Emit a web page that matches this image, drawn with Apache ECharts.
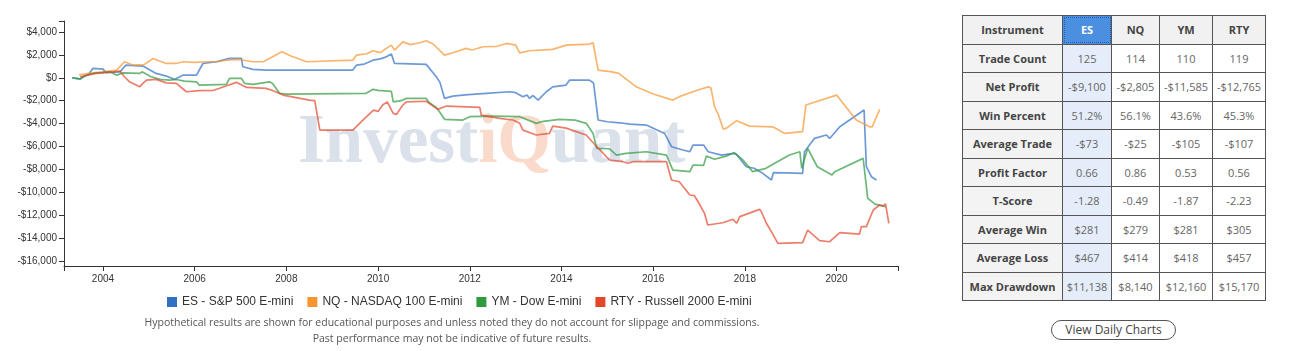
<!DOCTYPE html>
<html>
<head>
<meta charset="utf-8">
<script src="https://cdn.jsdelivr.net/npm/echarts@6.0.0/dist/echarts.min.js"></script>
<style>
  body { margin: 0; background: #fff; font-family: 'Open Sans', sans-serif; }
  #chart { position: absolute; left: 0; top: 0; width: 940px; height: 351px; }
  #stats { position: absolute; left: 962px; top: 15px; border-collapse: collapse; table-layout: fixed; }
  #stats td { border: 1.5px solid #555; height: 27.5px; padding: 0; text-align: center; font-size: 11px; color: #666; white-space: nowrap; background: #fff; }
  #stats tr:first-child td { background: #f1f1f1; color: #444; font-weight: bold; }
  #stats td.lbl { background: #f3f3f3; color: #444; font-weight: bold; }
  #stats td.sel { background: #e4edf9; }
  #stats tr:first-child td.sel { background: #4a8fe0; color: #fff; outline: 1px dotted #2a5fa8; outline-offset: -2px; }
  #daily { position: absolute; left: 1051px; top: 320px; width: 125px; height: 20px; box-sizing: border-box; border: 1.5px solid #555; border-radius: 10px; background: #fff; font-family: 'Open Sans', sans-serif; font-size: 12px; color: #444; text-align: center; line-height: 17px; }
</style>
</head>
<body>
<div id="chart"></div>
<table id="stats"></table>
<div id="daily">View Daily Charts</div>
<script>
// equity curves, [year, net profit $]
const esData = [
  [2003.33, 0], [2003.5, -100], [2003.7, 380], [2003.78, 820], [2004.0, 760], [2004.07, 440], [2004.37, 520],
  [2004.5, 1110], [2004.87, 1020], [2005.16, 380], [2005.38, 150], [2005.56, -140], [2005.74, 230], [2006.04, 230],
  [2006.18, 1250], [2006.47, 1400], [2006.76, 1690], [2007.02, 1690], [2007.05, 960], [2007.27, 730], [2007.56, 670],
  [2009.45, 670], [2009.53, 1110], [2009.7, 1200], [2009.89, 1540], [2010.05, 1650], [2010.18, 1830], [2010.29, 2070],
  [2010.36, 1250], [2011.05, 1170], [2011.27, 90], [2011.35, -400], [2011.45, -1800], [2011.63, -1600], [2011.9, -1500],
  [2012.36, -1360], [2012.87, -1220], [2013.0, -1300], [2013.16, -1660], [2013.25, -1500], [2013.3, -1800], [2013.38, -1550],
  [2013.49, -1950], [2013.67, -1220], [2013.81, -790], [2014.1, -640], [2014.18, -200], [2014.61, -200], [2014.7, -450],
  [2014.8, -3690], [2015.0, -3840], [2015.27, -3930], [2015.5, -4050], [2015.85, -4130], [2016.05, -4500], [2016.25, -4860],
  [2016.4, -6020], [2016.65, -6310], [2016.8, -6460], [2016.87, -5880], [2017.1, -5880], [2017.2, -6460], [2017.49, -6750],
  [2017.75, -6600], [2017.82, -6700], [2018.03, -7770], [2018.2, -7900], [2018.39, -8350], [2018.58, -8930], [2018.62, -8290],
  [2018.9, -8300], [2019.26, -8350], [2019.3, -6460], [2019.52, -5290], [2019.78, -5000], [2019.85, -5300], [2020.07, -4280],
  [2020.6, -2820], [2020.65, -7770], [2020.76, -8640], [2020.87, -8930]
]
const nqData = [
  [2003.48, 250], [2003.7, 380], [2004.0, 520], [2004.3, 670], [2004.47, 1400], [2004.65, 1110], [2004.9, 1150],
  [2005.09, 1690], [2005.38, 1250], [2005.6, 1250], [2005.75, 1400], [2006.0, 1350], [2006.25, 1400], [2006.5, 1400],
  [2006.69, 1540], [2006.98, 1600], [2007.27, 1400], [2007.5, 1400], [2007.9, 2270], [2008.1, 1900], [2008.44, 1400],
  [2009.45, 1540], [2009.53, 1980], [2009.75, 2100], [2009.89, 2360], [2010.05, 2200], [2010.18, 2570], [2010.29, 2850],
  [2010.36, 2420], [2010.54, 3140], [2010.7, 2900], [2010.91, 3060], [2011.05, 3230], [2011.2, 2950], [2011.45, 1980],
  [2011.7, 2270], [2011.92, 2570], [2012.05, 2430], [2012.29, 2710], [2012.6, 2750], [2012.8, 3000], [2013.0, 2850],
  [2013.09, 2180], [2013.3, 2360], [2013.81, 2480], [2014.1, 2850], [2014.61, 2940], [2014.69, 3060], [2014.8, 670],
  [2015.1, 520], [2015.25, 380], [2015.63, -790], [2016.0, -1420], [2016.43, -1950], [2016.6, -1600], [2017.01, -1020],
  [2017.2, -790], [2017.26, -900], [2017.34, -2530], [2017.42, -3200], [2017.53, -4500], [2017.6, -4400], [2017.82, -3750],
  [2018.1, -4220], [2018.61, -4280], [2018.87, -4860], [2019.26, -4710], [2019.33, -2380], [2020.0, -1510], [2020.43, -3690],
  [2020.72, -4280], [2020.78, -4280], [2020.94, -2760]
]
const ymData = [
  [2003.33, 0], [2003.5, -110], [2003.56, 90], [2003.78, 380], [2004.15, 520], [2004.3, 230], [2004.44, 430],
  [2004.8, 380], [2004.85, 520], [2005.05, 90], [2005.24, -140], [2005.45, -200], [2005.6, -150], [2005.78, -290],
  [2006.04, -350], [2006.1, -640], [2006.69, -580], [2006.76, -60], [2007.02, -60], [2007.09, -490], [2007.27, -580],
  [2007.63, -350], [2007.7, -490], [2007.85, -1360], [2008.0, -1420], [2009.74, -1360], [2009.89, -1010], [2010.0, -1100],
  [2010.29, -1190], [2010.33, -2100], [2010.5, -2000], [2010.62, -1800], [2011.05, -1800], [2011.12, -2180], [2011.27, -2590],
  [2011.34, -2970], [2011.45, -3630], [2011.85, -3690], [2012.0, -3400], [2012.5, -3350], [2013.09, -3400], [2013.45, -3980],
  [2013.6, -3800], [2013.96, -3630], [2014.3, -3700], [2014.54, -3980], [2014.69, -4860], [2014.77, -6170], [2015.05, -6200],
  [2015.2, -6750], [2015.41, -6600], [2015.85, -6460], [2016.29, -6750], [2016.43, -8060], [2016.8, -8200], [2016.87, -7620],
  [2017.1, -7650], [2017.16, -6840], [2017.34, -7120], [2017.59, -6840], [2017.77, -6550], [2017.95, -7150], [2018.17, -8200],
  [2018.46, -7910], [2018.97, -6750], [2019.2, -6460], [2019.24, -7910], [2019.37, -6170], [2019.58, -7770], [2019.9, -8490],
  [2019.96, -8200], [2020.58, -7040], [2020.68, -10530], [2020.84, -11030], [2021.07, -11260]
]
const rtyData = [
  [2003.5, 90], [2003.85, 380], [2004.22, 520], [2004.37, 590], [2004.47, 90], [2004.58, -350], [2004.8, -790],
  [2004.88, -450], [2004.95, -200], [2005.16, -140], [2005.38, -440], [2005.6, -490], [2005.82, -1220], [2006.1, -1130],
  [2006.4, -1110], [2006.7, -700], [2006.91, -400], [2007.13, -840], [2007.56, -930], [2007.7, -1110], [2007.93, -1510],
  [2008.5, -1950], [2008.62, -2000], [2008.73, -4570], [2009.45, -4570], [2009.67, -3690], [2009.9, -2820], [2010.0, -2950],
  [2010.1, -2380], [2010.2, -2100], [2010.33, -3110], [2010.4, -3200], [2010.54, -2380], [2010.62, -2100], [2011.05, -2050],
  [2011.3, -2760], [2011.49, -2470], [2012.22, -2590], [2012.25, -3260], [2012.65, -3550], [2012.94, -3690], [2013.09, -3980],
  [2013.16, -4570], [2013.45, -5000], [2013.74, -4860], [2013.81, -4220], [2014.1, -4400], [2014.54, -5000], [2014.77, -6020],
  [2015.05, -7180], [2015.34, -7330], [2015.45, -7470], [2015.56, -7330], [2016.29, -7330], [2016.4, -8930], [2016.57, -9080],
  [2016.8, -10240], [2016.9, -10300], [2017.0, -10960], [2017.12, -11840], [2017.19, -12860], [2017.52, -12660], [2017.74, -12360],
  [2017.82, -12710], [2017.89, -12130], [2018.32, -11490], [2018.36, -11700], [2018.47, -12710], [2018.6, -13590], [2018.72, -14460],
  [2019.26, -14400], [2019.37, -13300], [2019.63, -14230], [2019.85, -14320], [2020.07, -13530], [2020.5, -13650], [2020.54, -13000],
  [2020.65, -13000], [2020.8, -11550], [2020.94, -11110], [2021.0, -11200], [2021.07, -11030], [2021.14, -12710]
]

const seriesNames = ['ES - S&P 500 E-mini', 'NQ - NASDAQ 100 E-mini', 'YM - Dow E-mini', 'RTY - Russell 2000 E-mini']
const seriesColors = ['#2f6fc4', '#f7952f', '#2f9a3e', '#e2472c']
const yearTicks = [2004, 2006, 2008, 2010, 2012, 2014, 2016, 2018, 2020]
const dollarTicks = [-16000, -14000, -12000, -10000, -8000, -6000, -4000, -2000, 0, 2000, 4000]

// stats table
const instruments = ['ES', 'NQ', 'YM', 'RTY']
const statLabels = ['Trade Count', 'Net Profit', 'Win Percent', 'Average Trade', 'Profit Factor', 'T-Score', 'Average Win', 'Average Loss', 'Max Drawdown']
const tradeCount = ['125', '114', '110', '119']
const netProfit = ['-$9,100', '-$2,805', '-$11,585', '-$12,765']
const winPercent = ['51.2%', '56.1%', '43.6%', '45.3%']
const avgTrade = ['-$73', '-$25', '-$105', '-$107']
const profitFactor = ['0.66', '0.86', '0.53', '0.56']
const tScore = ['-1.28', '-0.49', '-1.87', '-2.23']
const avgWin = ['$281', '$279', '$281', '$305']
const avgLoss = ['$467', '$414', '$418', '$457']
const maxDrawdown = ['$11,138', '$8,140', '$12,160', '$15,170']

const footnotes = [
  'Hypothetical results are shown for educational purposes and unless noted they do not account for slippage and commissions.',
  'Past performance may not be indicative of future results.'
]

const xMin = 2003.15, xMax = 2021.34
const yMin = -16440, yMax = 4960

const fmtDollar = (v) => (v < 0 ? '-' : '') + '$' + Math.abs(v).toLocaleString('en-US')

const buildTable = () => {
  const rows = [tradeCount, netProfit, winPercent, avgTrade, profitFactor, tScore, avgWin, avgLoss, maxDrawdown]
  const widths = [100, 49, 48, 53, 53]
  let html = '<colgroup>' + widths.map(w => `<col style="width:${w}px">`).join('') + '</colgroup>'
  html += '<tr><td class="lbl">Instrument</td>' + instruments.map((s, i) => `<td class="${i === 0 ? 'sel' : ''}">${s}</td>`).join('') + '</tr>'
  rows.forEach((r, k) => {
    html += `<tr><td class="lbl">${statLabels[k]}</td>` + r.map((v, i) => `<td class="${i === 0 ? 'sel' : ''}">${v}</td>`).join('') + '</tr>'
  })
  document.getElementById('stats').innerHTML = html
}

const chart = echarts.init(document.getElementById('chart'))

const serif = 'Liberation Serif, Times New Roman, serif'

const option = {
  animation: false,
  textStyle: { fontFamily: 'Liberation Sans, Arial, sans-serif' },
  grid: { left: 64, top: 21, width: 834, height: 245, containLabel: false },
  legend: {
    left: 162,
    top: 291,
    icon: 'rect',
    itemWidth: 10,
    itemHeight: 10,
    itemGap: 14,
    textStyle: { fontSize: 12, color: '#333', fontFamily: 'Liberation Sans, Arial, sans-serif' },
    data: seriesNames
  },
  xAxis: {
    type: 'value',
    min: xMin,
    max: xMax,
    splitLine: { show: false },
    axisLine: { onZero: false, lineStyle: { color: '#333', width: 1 } },
    axisTick: { length: 5, lineStyle: { color: '#333' }, customValues: [xMin].concat(yearTicks, [xMax]) },
    axisLabel: { customValues: yearTicks, fontSize: 10, color: '#333', margin: 8, formatter: (v) => String(v) }
  },
  yAxis: {
    type: 'value',
    min: yMin,
    max: yMax,
    splitLine: { show: false },
    axisLine: { show: true, onZero: false, lineStyle: { color: '#333', width: 1 } },
    axisTick: { show: true, length: 5, lineStyle: { color: '#333' }, customValues: dollarTicks.concat([yMax]) },
    axisLabel: { customValues: dollarTicks, fontSize: 10, color: '#333', margin: 7, formatter: fmtDollar }
  },
  graphic: [
    {
      type: 'text',
      left: 298,
      top: 110,
      z: -10,
      silent: true,
      style: {
        text: '{a|Invest}{b|iQ}{a|uant}',
        rich: {
          a: { fontFamily: serif, fontWeight: 'bold', fontSize: 69, fill: '#dae1eb' },
          b: { fontFamily: serif, fontWeight: 'bold', fontSize: 69, fill: '#f9dacb' }
        }
      }
    },
    {
      type: 'text',
      x: 452,
      y: 323,
      style: { text: footnotes[0], align: 'center', verticalAlign: 'middle', fontFamily: 'Open Sans', fontSize: 10.5, fill: '#555' }
    },
    {
      type: 'text',
      x: 452,
      y: 339,
      style: { text: footnotes[1], align: 'center', verticalAlign: 'middle', fontFamily: 'Open Sans', fontSize: 10.5, fill: '#555' }
    }
  ],
  series: [esData, nqData, ymData, rtyData].map((d, i) => ({
    name: seriesNames[i],
    type: 'line',
    data: d,
    showSymbol: false,
    symbol: 'none',
    itemStyle: { color: seriesColors[i] },
    lineStyle: { width: 1.7, color: seriesColors[i], opacity: 0.7 },
    z: 2
  }))
}

chart.setOption(option)
buildTable()
</script>
</body>
</html>
